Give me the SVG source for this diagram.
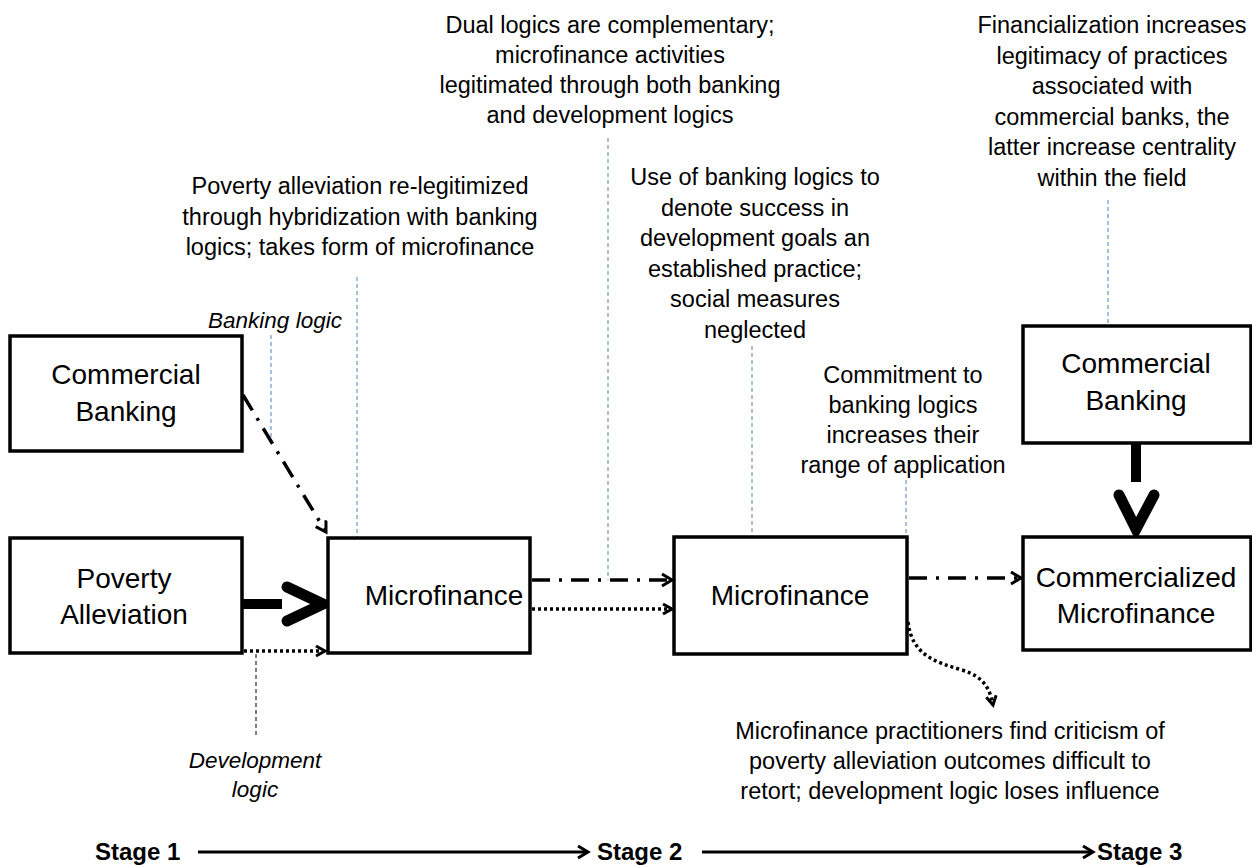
<svg xmlns="http://www.w3.org/2000/svg" width="1252" height="865" viewBox="0 0 1252 865">
<defs>
<style>
.box{fill:#fff;stroke:#000;stroke-width:3.5}
.nt{font-family:"Liberation Sans",Arial,sans-serif;font-size:28px;fill:#000;text-anchor:middle}
.an{font-family:"Liberation Sans",Arial,sans-serif;font-size:23.5px;fill:#000;text-anchor:middle}
.it{font-family:"Liberation Sans",Arial,sans-serif;font-size:22.5px;font-style:italic;fill:#000;text-anchor:middle}
.st{font-family:"Liberation Sans",Arial,sans-serif;font-size:24px;font-weight:bold;fill:#000}
.lead{stroke:#4f81bd;stroke-width:1;stroke-dasharray:4 3;fill:none}
.dd{stroke:#000;stroke-width:3.5;fill:none;stroke-dasharray:18 9 3 9}
.dot{stroke:#000;stroke-width:3.5;fill:none;stroke-dasharray:3 3}
.thick{stroke:#000;stroke-width:10;fill:none}
.chev{stroke:#000;stroke-width:11;fill:none;stroke-linecap:round;stroke-linejoin:miter}
</style>
<marker id="v" markerUnits="userSpaceOnUse" markerWidth="16" markerHeight="16" refX="12" refY="7" orient="auto">
<path d="M2,1 L12,7 L2,13" fill="none" stroke="#000" stroke-width="3"/>
</marker>
<marker id="sv" markerUnits="userSpaceOnUse" markerWidth="16" markerHeight="16" refX="12" refY="7" orient="auto">
<path d="M3,2 L12,7 L3,12" fill="none" stroke="#000" stroke-width="3"/>
</marker>
</defs>
<rect width="1252" height="865" fill="#fff"/>

<g id="annotations">
<text class="an" x="360" y="194">Poverty alleviation re-legitimized</text>
<text class="an" x="360" y="224.5">through hybridization with banking</text>
<text class="an" x="360" y="255">logics; takes form of microfinance</text>

<text class="an" x="610" y="33">Dual logics are complementary;</text>
<text class="an" x="610" y="63">microfinance activities</text>
<text class="an" x="610" y="93">legitimated through both banking</text>
<text class="an" x="610" y="123">and development logics</text>

<text class="an" x="755" y="185">Use of banking logics to</text>
<text class="an" x="755" y="216">denote success in</text>
<text class="an" x="755" y="246">development goals an</text>
<text class="an" x="755" y="277">established practice;</text>
<text class="an" x="755" y="307">social measures</text>
<text class="an" x="755" y="338">neglected</text>

<text class="an" x="903" y="383">Commitment to</text>
<text class="an" x="903" y="413">banking logics</text>
<text class="an" x="903" y="443">increases their</text>
<text class="an" x="903" y="473">range of application</text>

<text class="an" x="1112" y="33">Financialization increases</text>
<text class="an" x="1112" y="64">legitimacy of practices</text>
<text class="an" x="1112" y="94">associated with</text>
<text class="an" x="1112" y="125">commercial banks, the</text>
<text class="an" x="1112" y="155">latter increase centrality</text>
<text class="an" x="1112" y="186">within the field</text>

<text class="an" x="950" y="739">Microfinance practitioners find criticism of</text>
<text class="an" x="950" y="769">poverty alleviation outcomes difficult to</text>
<text class="an" x="950" y="799">retort; development logic loses influence</text>

<text class="it" x="275" y="328">Banking logic</text>
<text class="it" x="255" y="768">Development</text>
<text class="it" x="255" y="797">logic</text>
</g>

<g id="leaders">
<line class="lead" x1="271" y1="335" x2="271" y2="438"/>
<line class="lead" x1="357" y1="277" x2="357" y2="538"/>
<line class="lead" x1="608" y1="138" x2="608" y2="580"/>
<line class="lead" x1="752" y1="346" x2="752" y2="537"/>
<line class="lead" x1="906" y1="480" x2="906" y2="588"/>
<line class="lead" x1="1108" y1="200" x2="1108" y2="324"/>
<line x1="256" y1="654" x2="256" y2="737" stroke="#000" stroke-width="1" stroke-dasharray="4 3"/>
</g>

<g id="connectors">
<path class="dd" d="M243,395 L326,532" marker-end="url(#v)"/>
<line class="thick" x1="242" y1="604" x2="282" y2="604"/>
<polyline class="chev" points="287,587 323,604 287,621"/>
<path class="dot" d="M244,651 L325,651" marker-end="url(#sv)"/>
<path class="dd" d="M532,580 L672,580" marker-end="url(#v)"/>
<path class="dot" d="M532,609 L672,609" marker-end="url(#sv)"/>
<path class="dd" d="M909,578 L1021,578" marker-end="url(#v)"/>
<line class="thick" x1="1136" y1="443" x2="1136" y2="482"/>
<polyline class="chev" points="1119,495 1136,529 1154,495"/>
<path class="dot" d="M908,622 C912,655 935,662 962,670 C985,677 990,690 993,705" marker-end="url(#sv)"/>
</g>

<g id="node-commercial-banking-1">
<rect class="box" x="10" y="336" width="232" height="115"/>
<text class="nt" x="126" y="384">Commercial</text>
<text class="nt" x="126" y="421">Banking</text>
</g>
<g id="node-poverty-alleviation">
<rect class="box" x="10" y="538" width="232" height="115"/>
<text class="nt" x="124" y="588">Poverty</text>
<text class="nt" x="124" y="624">Alleviation</text>
</g>
<g id="node-microfinance-1">
<rect class="box" x="328" y="538" width="202" height="115"/>
<text class="nt" x="444" y="605">Microfinance</text>
</g>
<g id="node-microfinance-2">
<rect class="box" x="674" y="537" width="233" height="117"/>
<text class="nt" x="790" y="605">Microfinance</text>
</g>
<g id="node-commercial-banking-2">
<rect class="box" x="1023" y="326" width="228" height="117"/>
<text class="nt" x="1136" y="373">Commercial</text>
<text class="nt" x="1136" y="410">Banking</text>
</g>
<g id="node-commercialized-microfinance">
<rect class="box" x="1023" y="537" width="228" height="113"/>
<text class="nt" x="1136" y="587">Commercialized</text>
<text class="nt" x="1136" y="623">Microfinance</text>
</g>

<g id="stages">
<text class="st" x="95" y="860">Stage 1</text>
<line x1="198" y1="852" x2="588" y2="852" stroke="#000" stroke-width="3" marker-end="url(#v)"/>
<text class="st" x="597" y="860">Stage 2</text>
<line x1="702" y1="852" x2="1093" y2="852" stroke="#000" stroke-width="3" marker-end="url(#v)"/>
<text class="st" x="1097" y="860">Stage 3</text>
</g>
</svg>
